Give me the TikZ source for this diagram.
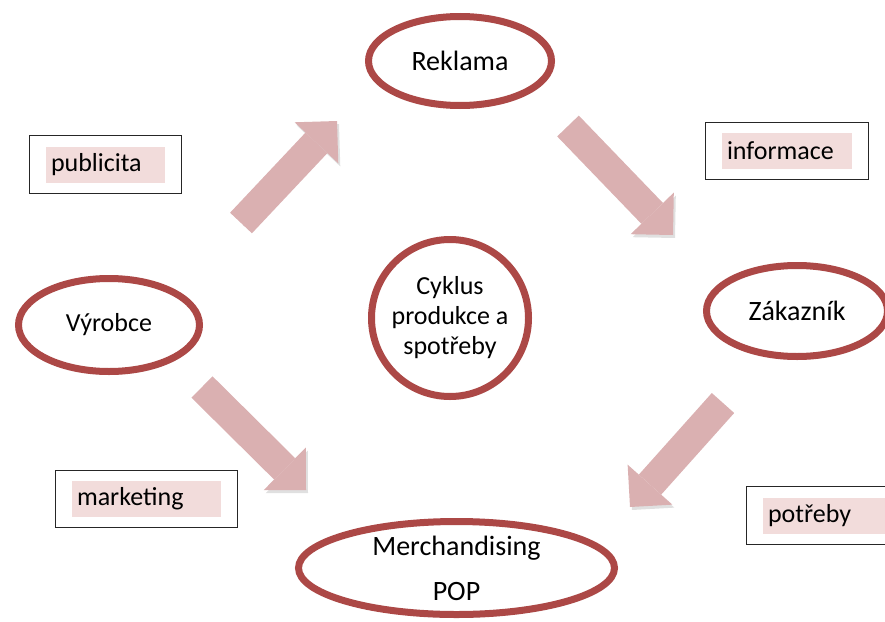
\documentclass[tikz,border=0pt]{standalone}
\usepackage{fontspec}
\setmainfont{Carlito}
\usetikzlibrary{positioning,arrows.meta,shapes.geometric,fit,shadows}
\definecolor{ovalred}{RGB}{172,72,70}
\definecolor{arrowpink}{RGB}{218,176,177}
\definecolor{tagpink}{RGB}{242,220,219}

\begin{document}
\begin{tikzpicture}[
    x=1pt, y=-1pt,
    oval/.style={
        ellipse,
        draw=ovalred,
        line width=7pt,
        fill=white,
        inner sep=0pt,
        align=center,
        font=\fontsize{28}{45}\selectfont,
        drop shadow={opacity=0.18, shadow xshift=2pt, shadow yshift=-3pt}
    },
    ring/.style={
        oval,
        circle,
        minimum size=157pt,
        font=\fontsize{26}{30}\selectfont
    },
    tag/.style={
        fill=tagpink,
        align=left,
        inner xsep=5pt,
        inner ysep=0pt,
        minimum height=36pt,
        font=\fontsize{26}{30}\selectfont
    },
    frame/.style={
        draw=black!85,
        line width=1.3pt,
        inner xsep=16pt,
        inner ysep=10.5pt
    },
    fat/.style={
        draw=arrowpink,
        line width=30pt,
        -{Triangle[length=30pt 0 0, width=60pt 0 0, line width=0pt 0 0]},
        preaction={draw=black!12, transform canvas={shift={(2pt,-3pt)}}}
    }
]
\clip (0,0) rectangle (885,621);

% ovals
\node[oval, minimum width=183pt, minimum height=89pt] (rek) at (460,61) {Reklama};
\node[oval, minimum width=181pt, minimum height=93pt, font=\fontsize{26}{30}\selectfont] (vyr) at (109,325) {Výrobce};
\node[oval, minimum width=181pt, minimum height=91pt] (zak) at (797,311) {Zákazník};
\node[oval, minimum width=316pt, minimum height=93pt, inner ysep=-8pt] (merch) at (456.5,568) {Merchandising\\POP};
\node[ring] (cyk) at (450,318) {Cyklus\\produkce a\\spotřeby};

% labels
\node[tag, text width=109pt] (pub) at (105.5,164.5) {publicita};
\node[frame, fit=(pub)] (pubbox) {};
\node[tag, text width=120pt] (inf) at (787,151) {informace};
\node[frame, fit=(inf)] (infbox) {};
\node[tag, text width=139pt] (mark) at (146.5,499) {marketing};
\node[frame, fit=(mark)] (markbox) {};
\node[tag, text width=130pt] (potr) at (833,515.5) {potřeby};
\node[frame, fit=(potr)] (potrbox) {};

% block arrows
\coordinate (a1s) at (241,223);
\coordinate (a1e) at (337,121);
\coordinate (a2s) at (568,126);
\coordinate (a2e) at (673,235);
\coordinate (a3s) at (723,403);
\coordinate (a3e) at (630,507);
\coordinate (a4s) at (202,387);
\coordinate (a4e) at (306,490);

\draw[fat] (a1s) -- (a1e);
\draw[fat] (a2s) -- (a2e);
\draw[fat] (a3s) -- (a3e);
\draw[fat] (a4s) -- (a4e);
\end{tikzpicture}
\end{document}
